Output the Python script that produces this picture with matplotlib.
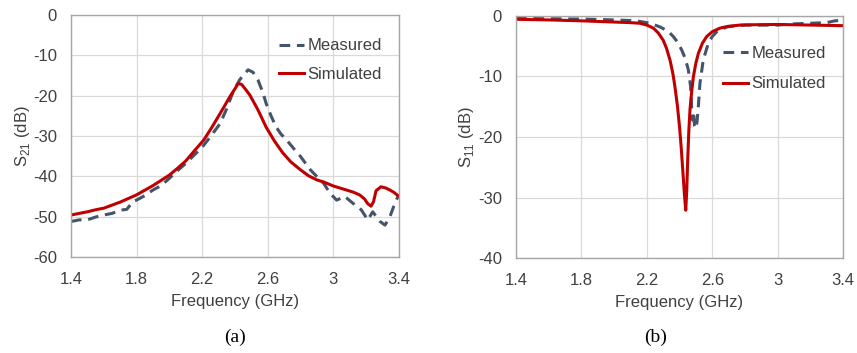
import matplotlib
matplotlib.use("Agg")
import matplotlib.pyplot as plt

plt.rcParams['font.family'] = ['Liberation Sans', 'DejaVu Sans']
plt.rcParams['mathtext.fontset'] = 'custom'
plt.rcParams['mathtext.rm'] = 'Liberation Sans'
plt.rcParams['axes.unicode_minus'] = False

# ---- Panel (a): S21 ----
a_meas_f = [1.40, 1.45, 1.50, 1.55, 1.60, 1.65, 1.70, 1.74, 1.78, 1.80, 1.85, 1.90, 1.95, 2.00, 2.05, 2.10,
            2.15, 2.20, 2.25, 2.31, 2.35, 2.39, 2.43, 2.48, 2.51, 2.54, 2.57, 2.59, 2.62, 2.65, 2.68, 2.715,
            2.76, 2.80, 2.86, 2.92, 2.94, 2.98, 3.02, 3.07, 3.12, 3.17, 3.21, 3.24, 3.285, 3.315, 3.345,
            3.375, 3.40]
a_meas_v = [-51.2, -50.8, -50.8, -50.1, -49.6, -49.2, -48.4, -48.2, -46.2, -45.9, -44.8, -43.4, -42.3, -40.5, -38.6,
            -36.8, -34.8, -32.8, -30.2, -26.9, -23.2, -18.9, -16.0, -13.6, -14.2, -16.1, -19.2, -21.9, -25.0,
            -27.7, -29.5, -31.0, -33.2, -35.1, -38.4, -40.9, -41.7, -44.2, -45.9, -45.0, -46.7, -48.3, -50.8,
            -48.8, -51.2, -52.1, -50.0, -46.7, -44.5]
a_sim_f = [1.40, 1.45, 1.50, 1.55, 1.60, 1.70, 1.80, 1.90, 2.00, 2.05, 2.10, 2.15, 2.21, 2.26, 2.31, 2.34,
           2.37, 2.40, 2.42, 2.44, 2.46, 2.49, 2.54, 2.59, 2.64, 2.69, 2.74, 2.80, 2.85, 2.90, 2.94, 3.00,
           3.08, 3.12, 3.16, 3.19, 3.21, 3.23, 3.245, 3.26, 3.29, 3.32, 3.345, 3.37, 3.40]
a_sim_v = [-49.6, -49.2, -48.8, -48.3, -47.9, -46.4, -44.6, -42.3, -39.7, -38.0, -36.2, -33.8, -31.0, -27.8, -24.4, -22.3,
           -20.2, -18.3, -17.0, -17.2, -18.2, -19.8, -23.5, -27.8, -31.2, -34.1, -36.4, -38.4, -39.9, -40.9, -41.4, -42.4,
           -43.4, -43.9, -44.6, -45.6, -46.8, -47.4, -46.3, -43.6, -42.6, -42.9, -43.4, -44.0, -45.0]

# ---- Panel (b): S11 ----
b_meas_f = [1.40, 1.60, 1.80, 2.00, 2.10, 2.158, 2.22, 2.28, 2.33, 2.362, 2.39, 2.413, 2.435, 2.454, 2.468,
            2.475, 2.48, 2.486, 2.492, 2.50, 2.507, 2.515, 2.525, 2.545, 2.576, 2.60, 2.628, 2.69, 2.75,
            2.80, 2.90, 3.00, 3.10, 3.20, 3.30, 3.35, 3.40]
b_meas_v = [-0.4, -0.45, -0.5, -0.65, -0.75, -0.9, -1.2, -1.8, -2.5, -3.4, -4.4, -5.6, -7.0, -8.9, -11.7,
            -15.5, -17.2, -15.8, -18.2, -18.6, -17.5, -15.0, -11.1, -7.3, -4.5, -3.4, -2.6, -1.8, -1.6,
            -1.5, -1.5, -1.5, -1.3, -1.2, -1.1, -0.8, -0.7]
b_sim_f = [1.40, 1.60, 1.80, 2.00, 2.10, 2.158, 2.20, 2.24, 2.27, 2.30, 2.32, 2.342, 2.36, 2.372, 2.387, 2.40,
           2.41, 2.42, 2.43, 2.438, 2.444, 2.45, 2.457, 2.464, 2.475, 2.485, 2.50, 2.515, 2.54, 2.566, 2.60,
           2.648, 2.70, 2.77, 2.85, 3.00, 3.20, 3.40]
b_sim_v = [-0.55, -0.65, -0.8, -1.0, -1.1, -1.2, -1.5, -2.0, -2.8, -4.0, -5.3, -7.3, -9.6, -11.7, -14.8, -18.3,
           -21.6, -25.5, -29.5, -32.1, -29.0, -23.8, -19.0, -15.5, -12.3, -10.0, -7.8, -6.2, -4.5, -3.4, -2.6,
           -2.0, -1.7, -1.5, -1.45, -1.4, -1.5, -1.6]

xticks = [1.4, 1.8, 2.2, 2.6, 3.0, 3.4]
xtick_labels = ['1.4', '1.8', '2.2', '2.6', '3', '3.4']

MEAS_C = '#44546A'
SIM_C = '#C00000'
GRID_C = '#D9D9D9'
TXT_C = '#404040'

fig = plt.figure(figsize=(8.57, 3.53), dpi=100)
axa = fig.add_axes([0.0828, 0.2720, 0.3827, 0.6856])
axb = fig.add_axes([0.6021, 0.2691, 0.3816, 0.6856])

def style(ax, yticks, ylabel, ylabelpad):
    ax.set_xlim(1.4, 3.4)
    ax.set_xticks(xticks)
    ax.set_xticklabels(xtick_labels)
    ax.set_yticks(yticks)
    ax.set_ylim(min(yticks), max(yticks))
    ax.grid(True, color=GRID_C, linewidth=0.9)
    ax.set_axisbelow(True)
    ax.tick_params(length=0, labelsize=12, colors=TXT_C, pad=11)
    ax.tick_params(axis='y', pad=10)
    for s in ax.spines.values():
        s.set_color('#A6A6A6')
        s.set_linewidth(1.0)
    ax.set_xlabel('Frequency (GHz)', fontsize=12, color=TXT_C, labelpad=5)
    ax.set_ylabel(ylabel, fontsize=12, color=TXT_C, labelpad=ylabelpad)

DASH = (0, (3.5, 2.2))
axa.plot(a_meas_f, a_meas_v, color=MEAS_C, linestyle=DASH, linewidth=2.2, label='Measured')
axa.plot(a_sim_f, a_sim_v, color=SIM_C, linewidth=2.2, label='Simulated')
style(axa, [0, -10, -20, -30, -40, -50, -60], 'S$_{\\mathregular{21}}$ (dB)', 0.5)
axa.legend(loc='upper left', bbox_to_anchor=(0.588, 0.965), frameon=False, fontsize=12,
           handlelength=1.5, handletextpad=0.2, labelspacing=0.8, labelcolor=TXT_C)

axb.plot(b_meas_f, b_meas_v, color=MEAS_C, linestyle=DASH, linewidth=2.2, label='Measured')
axb.plot(b_sim_f, b_sim_v, color=SIM_C, linewidth=2.2, label='Simulated')
style(axb, [0, -10, -20, -30, -40], 'S$_{\\mathregular{11}}$ (dB)', 1.5)
axb.legend(loc='upper left', bbox_to_anchor=(0.588, 0.94), frameon=False, fontsize=12,
           handlelength=1.5, handletextpad=0.2, labelspacing=0.95, labelcolor=TXT_C)

fig.text(235/857, 1 - 337/353, '(a)', family='Liberation Serif', fontsize=14, ha='center', va='center', color='black')
fig.text(656/857, 1 - 337/353, '(b)', family='Liberation Serif', fontsize=14, ha='center', va='center', color='black')

fig.savefig('out.png', dpi=100)
